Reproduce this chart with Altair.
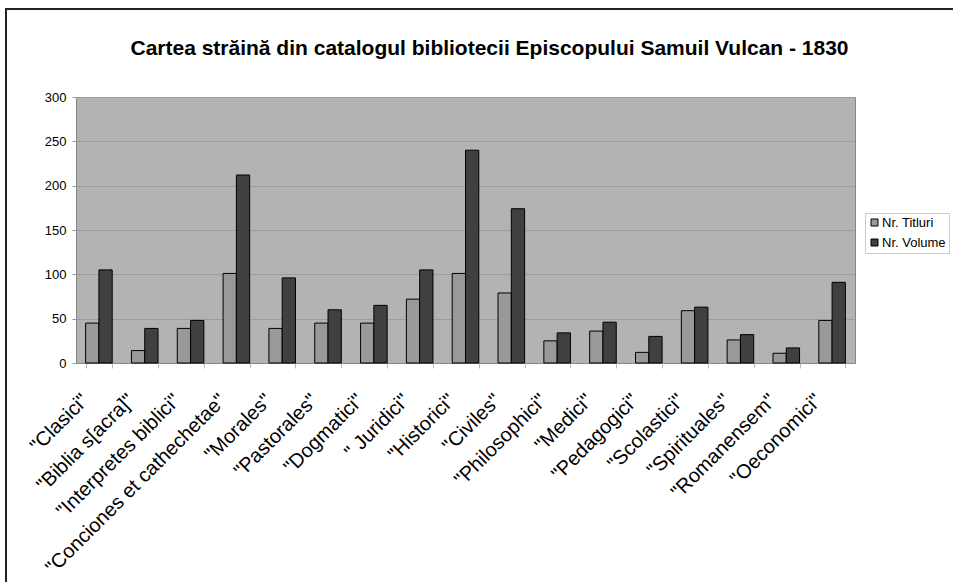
import altair as alt
import pandas as pd

categories = ['"Clasici"', '"Biblia s[acra]"', '"Interpretes biblici"',
              '"Conciones et cathechetae"', '"Morales"', '"Pastorales"',
              '"Dogmatici"', '" Juridici"', '"Historici"', '"Civiles"',
              '"Philosophici"', '"Medici"', '"Pedagogici"', '"Scolastici"',
              '"Spirituales"', '"Romanensem"', '"Oeconomici"']
titluri = [45, 14, 39, 101, 39, 45, 45, 72, 101, 79, 25, 36, 12, 59, 26, 11, 48]
volume = [105, 39, 48, 212, 96, 60, 65, 105, 240, 174, 34, 46, 30, 63, 32, 17, 91]
series = ["Nr. Titluri", "Nr. Volume"]
colors = ["#999999", "#404040"]
y_ticks = [0, 50, 100, 150, 200, 250, 300]

rows = []
for c, t, v in zip(categories, titluri, volume):
    rows.append({"cat": c, "serie": series[0], "val": t})
    rows.append({"cat": c, "serie": series[1], "val": v})
df = pd.DataFrame(rows)

FONT = "Liberation Sans"

bars = alt.Chart(df).mark_bar(stroke="black", strokeWidth=1).encode(
    x=alt.X("cat:N", sort=categories, title=None,
            scale=alt.Scale(paddingInner=0.42, paddingOuter=0.21),
            axis=alt.Axis(labelAngle=-45, labelAlign="right", labelBaseline="middle",
                          labelFontSize=20, labelColor="black", labelFont=FONT,
                          labelPadding=29, labelOffset=-14, labelLimit=0,
                          tickBand="extent", tickSize=5,
                          tickColor="#bbbbbb", domainColor="#888888",
                          labelOverlap=False, grid=False)),
    xOffset=alt.XOffset("serie:N", sort=series),
    y=alt.Y("val:Q", title=None,
            scale=alt.Scale(domain=[0, 300], nice=False),
            axis=alt.Axis(values=y_ticks, labelFontSize=13, labelColor="black",
                          labelFont=FONT, tickSize=4, tickColor="#999999",
                          domain=False, gridColor="#9c9c9c", labelPadding=6)),
    color=alt.Color("serie:N", sort=series,
                    scale=alt.Scale(domain=series, range=colors),
                    legend=alt.Legend(title=None, orient="none", legendX=789, legendY=116,
                                      symbolType="square", symbolSize=49,
                                      symbolStrokeColor="black", symbolStrokeWidth=1,
                                      labelFontSize=13, labelFont=FONT, labelColor="black",
                                      labelOffset=1,
                                      strokeColor="#cccccc", padding=3, rowPadding=6,
                                      fillColor="white")),
)

frame = alt.Chart(df).mark_rect(fill=None, stroke="#222222", strokeWidth=2, clip=False).encode(
    x=alt.value(-70), x2=alt.value(900), y=alt.value(-88), y2=alt.value(520)
)

chart = alt.layer(frame, bars).properties(
    width=779, height=266,
    padding={"left": 76, "top": 97, "right": 98, "bottom": 219},
    autosize=alt.AutoSizeParams(type="none"),
    title=alt.TitleParams("Cartea străină din catalogul bibliotecii Episcopului Samuil Vulcan - 1830",
                          fontSize=21, font=FONT, fontWeight="bold", color="black",
                          baseline="alphabetic", offset=0, dy=68, dx=24),
    background="white",
).configure_view(fill="#b3b3b3", stroke="#888888", strokeWidth=1)

chart.save("out.html", embed_options={"renderer": "svg", "actions": False})
